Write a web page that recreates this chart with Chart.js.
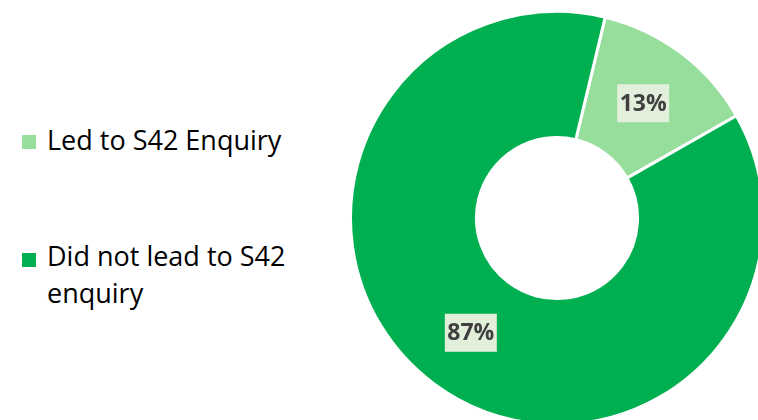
<!DOCTYPE html>
<html>
<head>
<meta charset="utf-8">
<script src="https://cdn.jsdelivr.net/npm/chart.js@4.4.0/dist/chart.umd.min.js"></script>
<style>
  html, body { margin: 0; padding: 0; width: 758px; height: 420px; overflow: hidden; background: #fff; }
  #legend { position: absolute; left: 22px; top: 0; font-family: "Open Sans", Lato, sans-serif; font-size: 27px; color: #000; }
  .item { position: absolute; left: 0; width: 320px; line-height: 37px; }
  .box { position: absolute; left: 0; width: 14px; height: 14px; }
  .txt { position: absolute; left: 25px; width: 285px; }
  #wrap { position: absolute; left: 349px; top: 10px; width: 416px; height: 416px; }
</style>
</head>
<body>
<div id="legend"></div>
<div id="wrap"><canvas id="donut" width="416" height="416"></canvas></div>
<script>
const categories = ['Led to S42 Enquiry', 'Did not lead to S42 enquiry'];
const values = [13, 87];
const labels = ['13%', '87%'];
const colors = ['#97DD9B', '#00B050'];

// legend, drawn as html so the second item wraps like the original
const legendEl = document.getElementById('legend');
const legendTops = [121, 237];
categories.forEach((name, i) => {
  const item = document.createElement('div');
  item.className = 'item';
  item.style.top = legendTops[i] + 'px';
  const box = document.createElement('div');
  box.className = 'box';
  box.style.background = colors[i];
  box.style.top = (i === 0 ? 14 : 16) + 'px';
  const txt = document.createElement('div');
  txt.className = 'txt';
  txt.textContent = name;
  item.appendChild(box);
  item.appendChild(txt);
  legendEl.appendChild(item);
});

// value labels in the middle of each ring segment with a pale box behind
const sliceLabels = {
  id: 'sliceLabels',
  afterDatasetsDraw(chart) {
    const ctx = chart.ctx;
    const meta = chart.getDatasetMeta(0);
    ctx.save();
    ctx.font = 'bold 23px "Open Sans", Lato, sans-serif';
    ctx.textAlign = 'center';
    ctx.textBaseline = 'middle';
    meta.data.forEach((arc, i) => {
      const pos = arc.tooltipPosition();
      const w = 52, h = 38;
      ctx.fillStyle = '#E2EFDA';
      ctx.fillRect(pos.x - w / 2, pos.y - h / 2, w, h);
      ctx.fillStyle = '#404040';
      ctx.fillText(labels[i], pos.x, pos.y + 1);
    });
    ctx.restore();
  }
};

new Chart(document.getElementById('donut'), {
  type: 'doughnut',
  data: {
    labels: categories,
    datasets: [{
      data: values,
      backgroundColor: colors,
      borderColor: '#ffffff',
      borderWidth: 3
    }]
  },
  options: {
    responsive: false,
    animation: false,
    cutout: '39%',
    rotation: 13.5,
    plugins: {
      legend: { display: false },
      tooltip: { enabled: false }
    }
  },
  plugins: [sliceLabels]
});
</script>
</body>
</html>
